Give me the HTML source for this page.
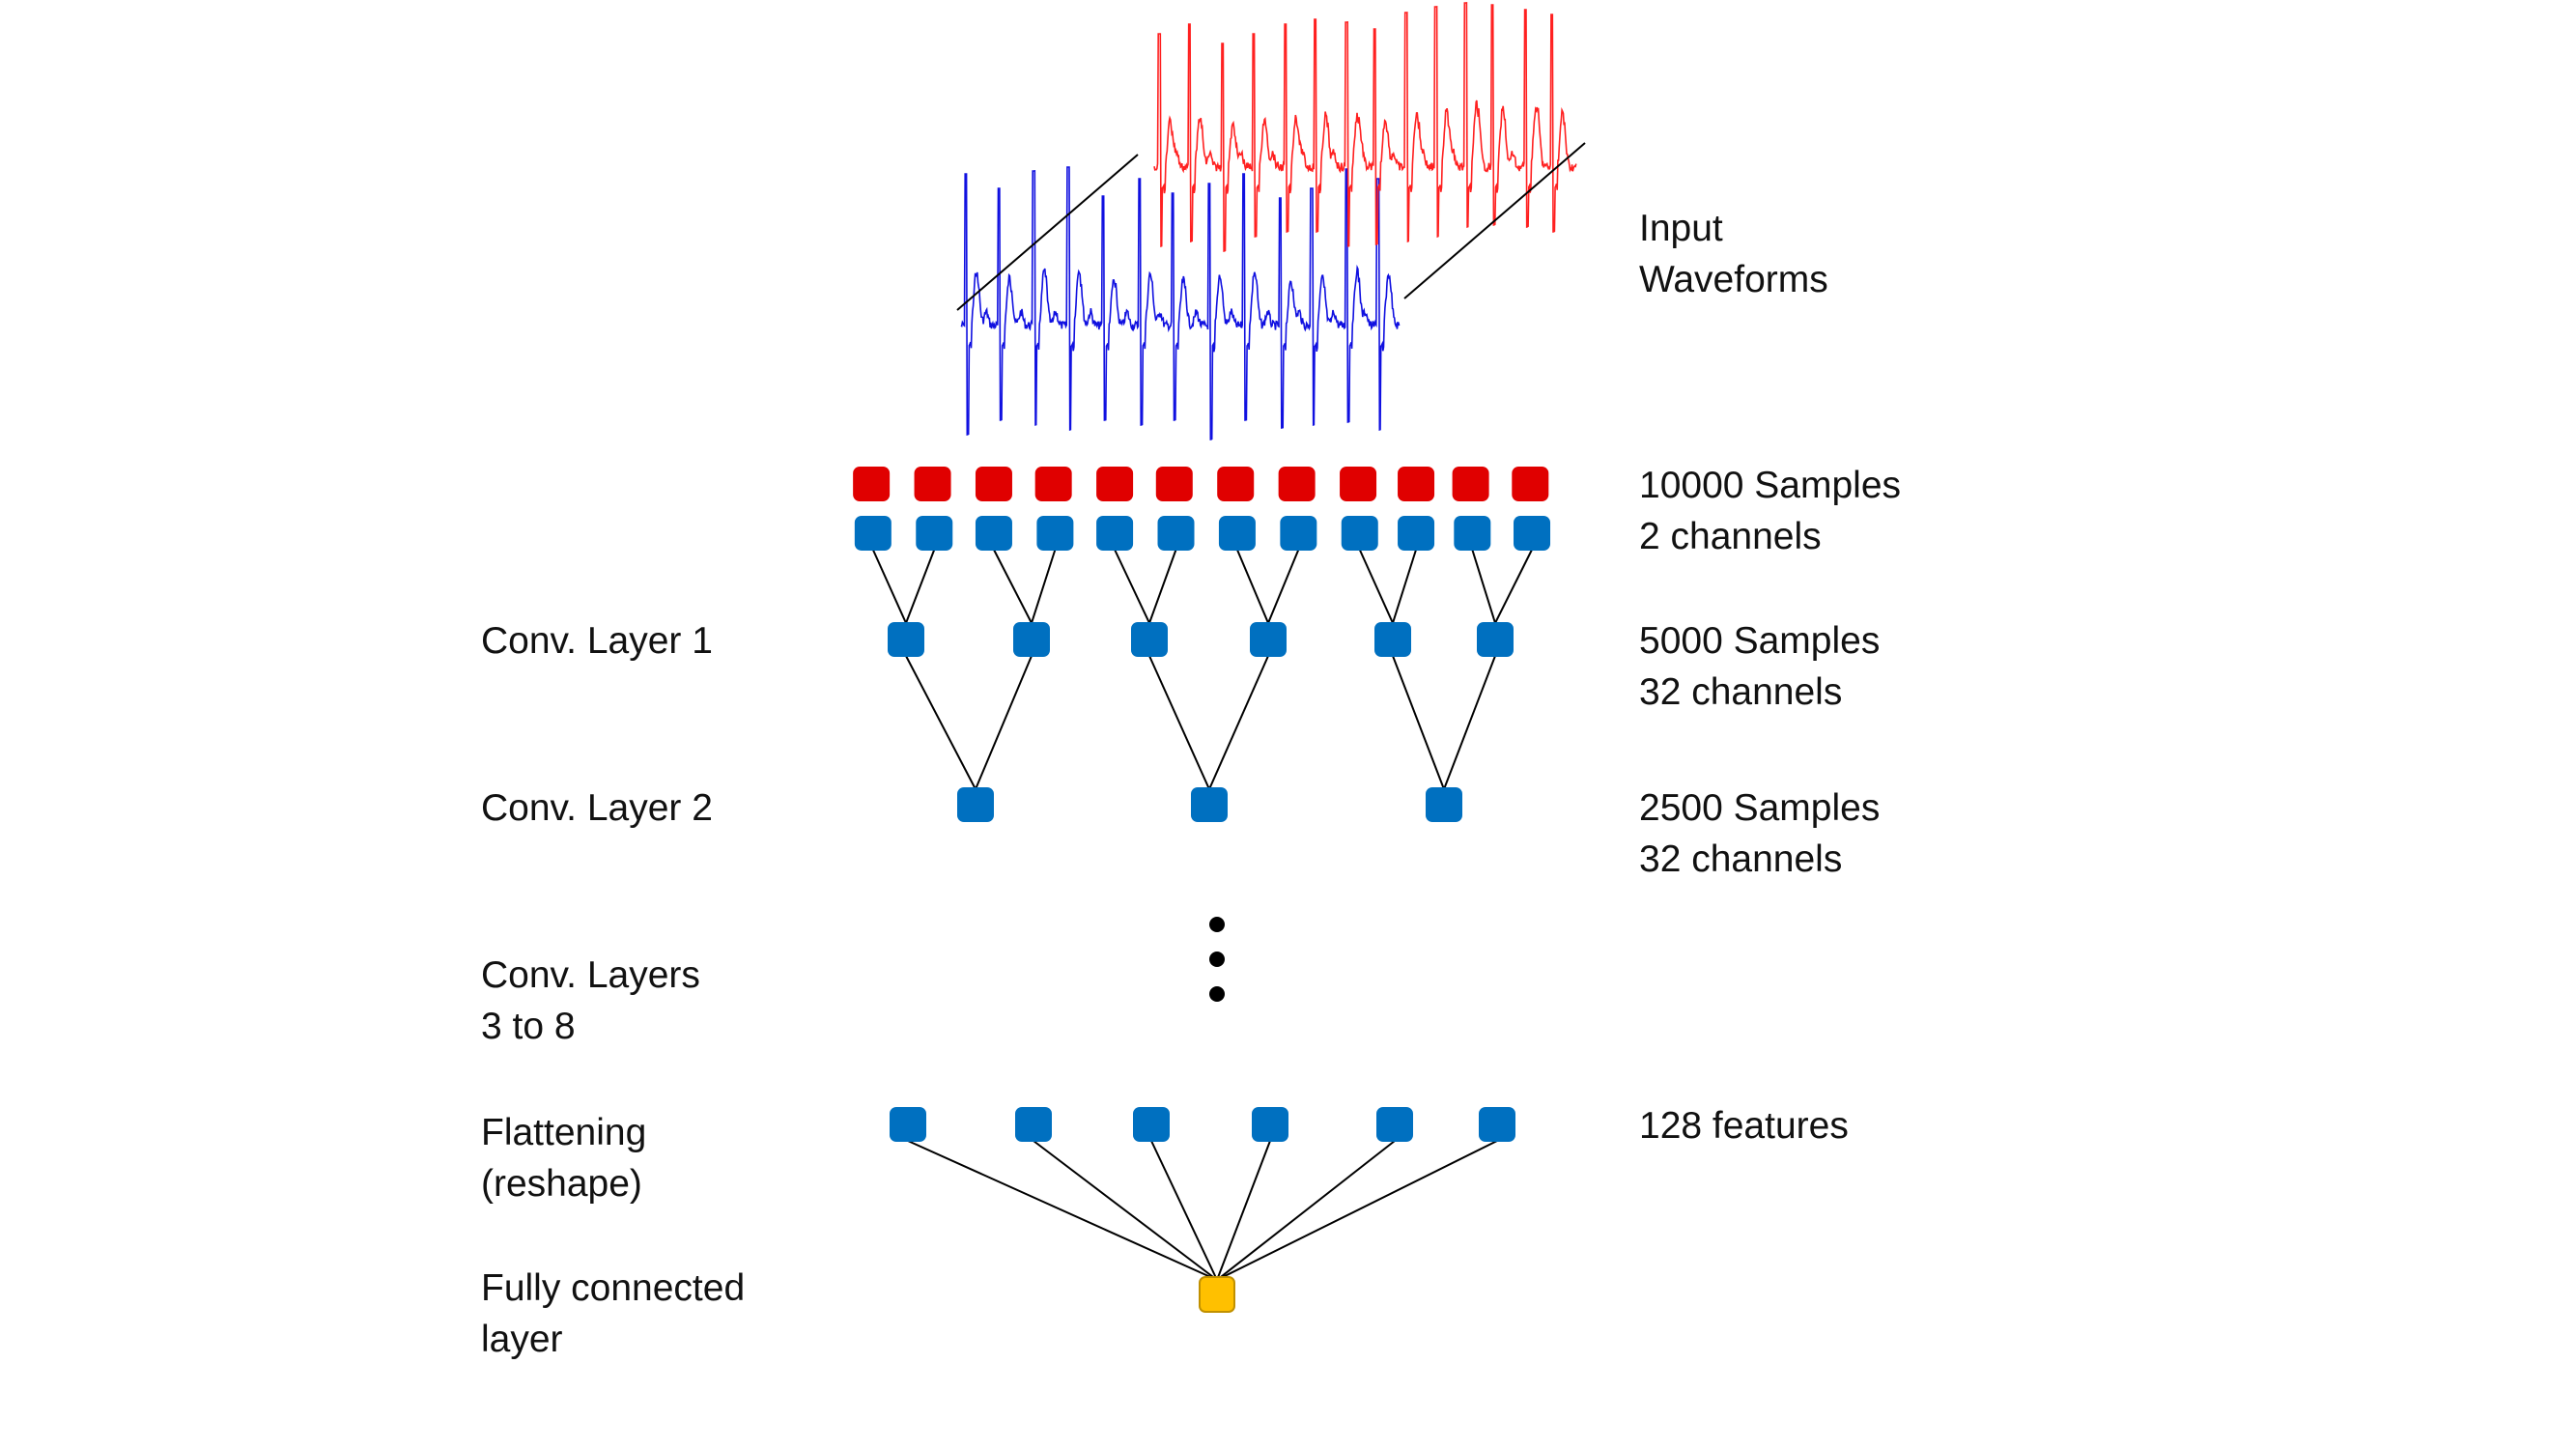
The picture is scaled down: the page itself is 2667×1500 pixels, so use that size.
<!DOCTYPE html>
<html><head><meta charset="utf-8">
<style>
html,body{margin:0;padding:0;background:#fff;}
#c{position:relative;width:2667px;height:1500px;overflow:hidden;}
.t{position:absolute;font-family:"Liberation Sans",sans-serif;font-size:39px;color:#111;line-height:53px;white-space:nowrap;}
</style></head><body>
<div id="c">
<svg id="s" width="2667" height="1500" style="position:absolute;left:0;top:0">
<g transform="translate(-8,-5)">
<g id="wave"></g>
<line x1="999" y1="326" x2="1186" y2="165" stroke="#000" stroke-width="2"/>
<line x1="1462" y1="314" x2="1649" y2="153" stroke="#000" stroke-width="2"/>
<g id="net" stroke="#000" stroke-width="2"></g>
<g id="nodes"></g>
<circle cx="1268" cy="962" r="8" fill="#000"/>
<circle cx="1268" cy="998" r="8" fill="#000"/>
<circle cx="1268" cy="1034" r="8" fill="#000"/>
</g>
</svg>
<div class="t" style="left:1697px;top:210px">Input<br>Waveforms</div>
<div class="t" style="left:1697px;top:476px">10000 Samples<br>2 channels</div>
<div class="t" style="left:1697px;top:637px">5000 Samples<br>32 channels</div>
<div class="t" style="left:1697px;top:810px">2500 Samples<br>32 channels</div>
<div class="t" style="left:1697px;top:1139px">128 features</div>
<div class="t" style="left:498px;top:637px">Conv. Layer 1</div>
<div class="t" style="left:498px;top:810px">Conv. Layer 2</div>
<div class="t" style="left:498px;top:983px">Conv. Layers<br>3 to 8</div>
<div class="t" style="left:498px;top:1146px">Flattening<br>(reshape)</div>
<div class="t" style="left:498px;top:1307px">Fully connected<br>layer</div>
</div>
<script>
var NS="http://www.w3.org/2000/svg";
function el(p,t,a){var e=document.createElementNS(NS,t);for(var k in a)e.setAttribute(k,a[k]);p.appendChild(e);return e;}
var S=1.714;
var rx=[531,568,605,641,678,714,751,788,825,860,893,929].map(v=>v*S);
var bx=[532,569,605,642,678,715,752,789,826,860,894,930].map(v=>v*S);
var l1=[946,1076,1198,1321,1450,1556], l2=[1018,1260,1503];
var fl=[948,1078,1200,1323,1452,1558];
var net=document.getElementById('net'), nodes=document.getElementById('nodes');
function ln(a,b,c,d){el(net,'line',{x1:a,y1:b,x2:c,y2:d});}
for(var i=0;i<12;i++)ln(bx[i],574,l1[i>>1],650);
for(var i=0;i<6;i++)ln(l1[i],684,l2[i>>1],822);
for(var i=0;i<6;i++)ln(fl[i],1186,1268,1330);
function box(x,y,c){el(nodes,'rect',{x:x-19,y:y-18,width:38,height:36,rx:7,fill:c});}
rx.forEach(x=>box(x,506,'#e00000'));
bx.forEach(x=>box(x,557,'#0070c0'));
l1.forEach(x=>box(x,667,'#0070c0'));
l2.forEach(x=>box(x,838,'#0070c0'));
fl.forEach(x=>box(x,1169,'#0070c0'));
el(nodes,'rect',{x:1250,y:1327,width:36,height:36,rx:6,fill:'#ffc000',stroke:'#c09000','stroke-width':2});
var seed=7;function rnd(){seed=(seed*9301+49297)%233280;return seed/233280;}
function ecg(x0,x1,base,spikes,top,bot,col){
  var pts=[];
  for(var x=x0;x<=x1;x+=0.7){
    var y=base+(rnd()-0.5)*9;
    for(var j=0;j<spikes.length;j++){
      var d=x-spikes[j];
      if(Math.abs(d)<1.2)y=top[j];
      else if(d>=1.2&&d<3)y=bot[j];
      else if(d>=3&&d<6)y=base+22;
      var dt=d-11; y-=(base-top[j])*0.42*Math.exp(-dt*dt/14);
      var dp=d+13; y-=14*Math.exp(-dp*dp/8);
      var ds=d-5; if(ds>0&&ds<8) y+=10;
    }
    pts.push(x.toFixed(1)+','+y.toFixed(1));
  }
  el(document.getElementById('wave'),'polyline',{points:pts.join(' '),fill:'none',stroke:col,'stroke-width':1.6});
}
var bs=[588,608,629,650,671,693,713,735,756,778,797,818,837].map(v=>v*S);
var bt=bs.map((v,i)=>[185,200,182,178,208,190,205,195,185,210,200,180,190][i]);
var bb=bs.map((v,i)=>[455,440,445,450,440,445,440,460,440,448,445,442,450][i]);
ecg(1003,1457,342,bs,bt,bb,'#1010e0');
var rs=[705,723,743,762,781,799,818,835,854,872,890,906,926,942].map(v=>v*S);
var rt=rs.map((v,i)=>[40,30,50,40,30,25,28,35,18,12,8,10,15,20][i]);
var rb=rs.map((v,i)=>[260,255,265,250,245,245,260,258,255,250,240,238,240,245][i]);
ecg(1203,1640,178,rs,rt,rb,'#ff2020');
</script>
</body></html>
